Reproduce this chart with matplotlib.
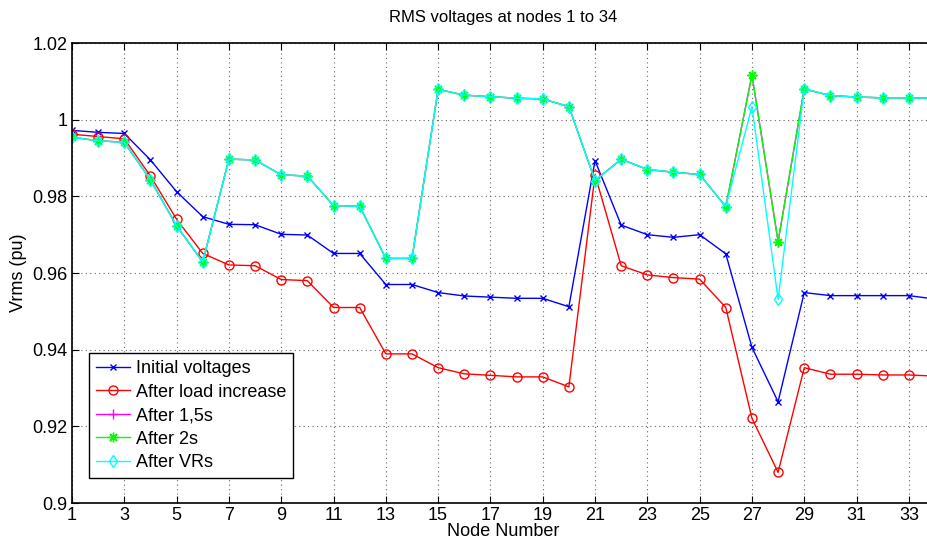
"""RMS voltages at nodes 1 to 34, five operating states."""

import matplotlib
matplotlib.use("Agg")
import matplotlib.pyplot as plt

nodes = list(range(1, 35))

initial = [0.9972, 0.9967, 0.9964, 0.9895, 0.9812, 0.9747, 0.9727, 0.9726,
           0.9701, 0.9699, 0.9651, 0.9651, 0.9570, 0.9570, 0.9549, 0.9540,
           0.9537, 0.9534, 0.9534, 0.9512, 0.9893, 0.9725, 0.9700, 0.9693,
           0.9700, 0.9650, 0.9406, 0.9264, 0.9549, 0.9541, 0.9541, 0.9541,
           0.9541, 0.9532]

load_increase = [0.9962, 0.9956, 0.9950, 0.9853, 0.9740, 0.9651, 0.9621,
                 0.9619, 0.9583, 0.9580, 0.9510, 0.9510, 0.9389, 0.9389,
                 0.9353, 0.9337, 0.9333, 0.9329, 0.9329, 0.9303, 0.9856,
                 0.9619, 0.9595, 0.9588, 0.9584, 0.9510, 0.9221, 0.9080,
                 0.9353, 0.9336, 0.9336, 0.9334, 0.9334, 0.9331]

after_2s = [0.9954, 0.9945, 0.9941, 0.9843, 0.9723, 0.9629, 0.9897, 0.9895,
            0.9856, 0.9853, 0.9776, 0.9774, 0.9638, 0.9638, 1.0079, 1.0064,
            1.0060, 1.0056, 1.0054, 1.0034, 0.9841, 0.9897, 0.9870, 0.9863,
            0.9857, 0.9773, 1.0117, 0.9682, 1.0080, 1.0063, 1.0059, 1.0057,
            1.0057, 1.0056]

# the 1,5s curve sits under the 2s curve everywhere
after_15s = list(after_2s)

after_vrs = list(after_2s)
after_vrs[26] = 1.0034
after_vrs[27] = 0.9531

plt.rcParams["font.family"] = ["Liberation Sans", "DejaVu Sans"]
plt.rcParams["font.size"] = 13

fig = plt.figure(figsize=(9.28, 5.42), dpi=100)
ax = fig.add_axes([72 / 928, 1 - 503 / 542, 863 / 928, 460 / 542])

ax.plot(nodes, initial, color="#0000ff", marker="x", markersize=5,
        linewidth=1, label="Initial voltages")
ax.plot(nodes, load_increase, color="#ff0000", marker="o", markersize=6.5,
        markerfacecolor="none", linewidth=1, label="After load increase")
ax.plot(nodes, after_15s, color="#ff00ff", marker="+", markersize=7,
        linewidth=1, label="After 1,5s")
ax.plot(nodes, after_2s, color="#00ff00", marker=(8, 2, 0), markersize=7,
        linewidth=1, label="After 2s")
ax.plot(nodes, after_vrs, color="#00ffff", marker="d", markersize=6.5,
        markerfacecolor="none", linewidth=1, label="After VRs")

ax.set_xlim(1, 34)
ax.set_ylim(0.9, 1.02)
ax.set_xticks(range(1, 34, 2))
ax.set_yticks([0.9, 0.92, 0.94, 0.96, 0.98, 1.0, 1.02])
ax.set_yticklabels(["0.9", "0.92", "0.94", "0.96", "0.98", "1", "1.02"])
ax.tick_params(direction="in", top=True, right=True, length=5, pad=3)
ax.grid(True, linestyle=(0, (1, 3)), color="#666666", linewidth=0.8)
for spine in ax.spines.values():
    spine.set_linewidth(1.2)

ax.set_title("RMS voltages at nodes 1 to 34", fontsize=12, pad=15)
ax.set_xlabel("Node Number", labelpad=-1)
ax.set_ylabel("Vrms (pu)", labelpad=4)

leg = ax.legend(loc="lower left", bbox_to_anchor=(0.02, 0.054),
                borderaxespad=0, fancybox=False, framealpha=1,
                edgecolor="black", handlelength=1.9, labelspacing=0.36,
                borderpad=0.38, handletextpad=0.3)
leg.get_frame().set_linewidth(1.0)

fig.savefig("out.png", dpi=100)
